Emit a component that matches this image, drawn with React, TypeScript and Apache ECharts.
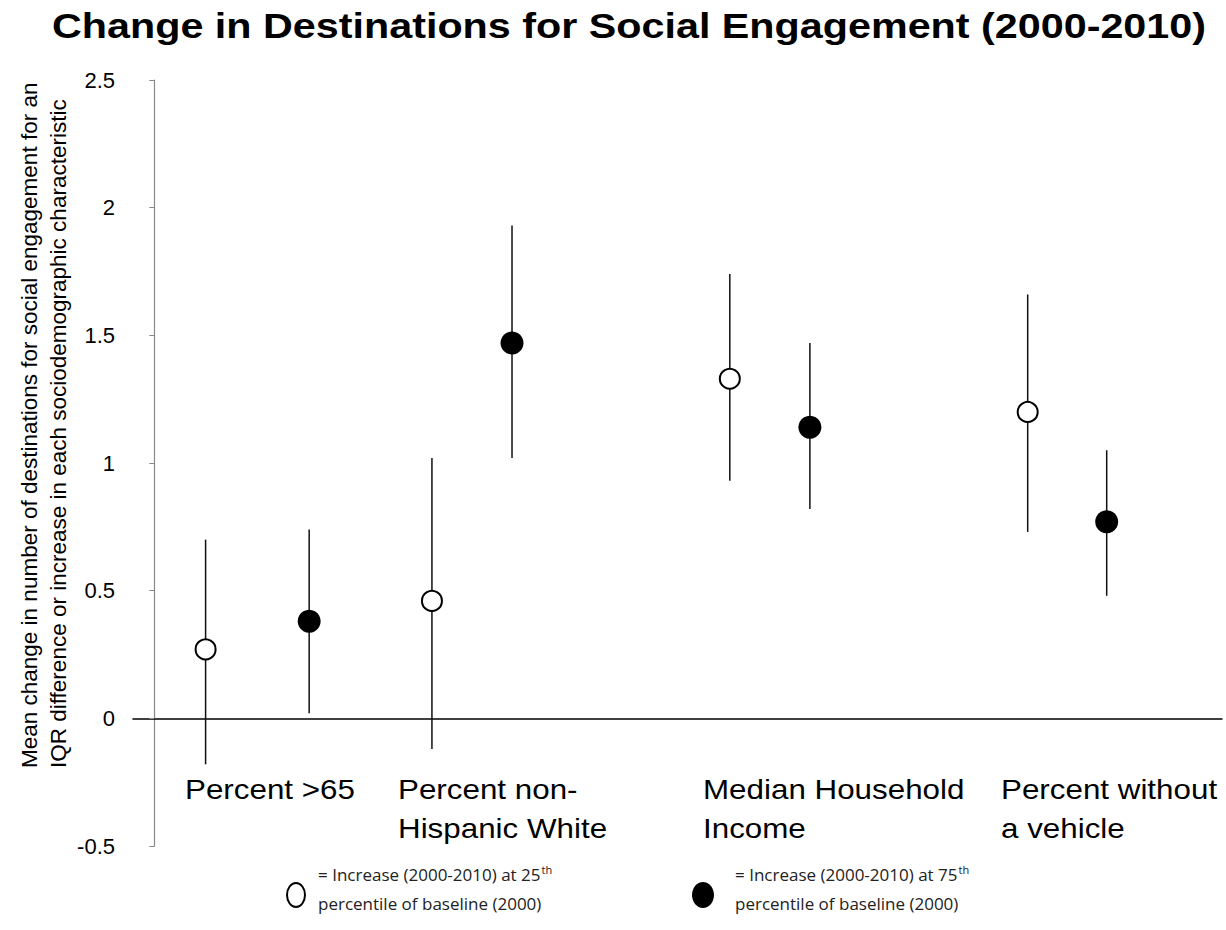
import React, { useEffect, useRef } from "react";
import * as echarts from "echarts";

// Sociodemographic characteristics (x-axis groups)
const categories = [
  "Percent >65",
  "Percent non-\nHispanic White",
  "Median Household\nIncome",
  "Percent without\na vehicle",
];

// Horizontal slot of each marker within the plot (hidden value axis)
const xAt25 = [0.48, 2.6, 5.39, 8.18];
const xAt75 = [1.45, 3.35, 6.14, 8.92];

// Increase (2000-2010) at 25th percentile of baseline (2000)
const mean25 = [0.27, 0.46, 1.33, 1.2];
const low25 = [-0.18, -0.12, 0.93, 0.73];
const high25 = [0.7, 1.02, 1.74, 1.66];

// Increase (2000-2010) at 75th percentile of baseline (2000)
const mean75 = [0.38, 1.47, 1.14, 0.77];
const low75 = [0.02, 1.02, 0.82, 0.48];
const high75 = [0.74, 1.93, 1.47, 1.05];

const yTicks = { min: -0.5, max: 2.5, interval: 0.5 };

const title = "Change in Destinations for Social Engagement (2000-2010)";
const yNameLines = [
  "Mean change in number of destinations for social engagement for an",
  "IQR difference or increase in each sociodemographic characteristic",
];
const legendText25 = ["= Increase (2000-2010) at 25", "th", "percentile of baseline (2000)"];
const legendText75 = ["= Increase (2000-2010) at 75", "th", "percentile of baseline (2000)"];

const SANS = "'Liberation Sans', Arial, sans-serif";
const NARROW = "'Liberation Sans Narrow', 'Open Sans', sans-serif";

// Label boxes for the category names (left edge, top of first line)
const categoryLabelPos = [
  [185, 770],
  [398, 770],
  [703, 770],
  [1001, 770],
];

function errorBarSeries(name: string, xs: number[], lo: number[], hi: number[]) {
  return {
    name,
    type: "custom",
    z: 2,
    silent: true,
    data: xs.map((x, i) => [x, lo[i], hi[i]]),
    renderItem: (_params: any, api: any) => {
      const p1 = api.coord([api.value(0), api.value(1)]);
      const p2 = api.coord([api.value(0), api.value(2)]);
      return {
        type: "line",
        shape: { x1: p1[0], y1: p1[1], x2: p2[0], y2: p2[1] },
        style: { stroke: "#111", lineWidth: 1.5 },
      };
    },
  };
}

export default function App() {
  const ref = useRef<HTMLDivElement>(null);

  useEffect(() => {
    if (!ref.current) return;
    const chart = echarts.init(ref.current, undefined, { renderer: "svg" });

    const legendGraphic = (
      cx: number,
      textX: number,
      filled: boolean,
      lines: string[]
    ) => [
      {
        type: "ellipse",
        shape: { cx, cy: 895, rx: filled ? 11 : 9, ry: filled ? 13 : 12 },
        style: filled
          ? { fill: "#000" }
          : { fill: "#fff", stroke: "#000", lineWidth: 2 },
      },
      {
        type: "text",
        x: textX,
        y: 874,
        style: {
          text: `${lines[0]}{sup|${lines[1]}}`,
          font: `17px ${NARROW}`,
          fill: "#222",
          verticalAlign: "middle",
          rich: {
            sup: { fontSize: 11, fontFamily: NARROW, verticalAlign: "top", padding: [0, 0, 10, 1] },
          },
        },
      },
      {
        type: "text",
        x: textX,
        y: 903,
        style: {
          text: lines[2],
          font: `17px ${NARROW}`,
          fill: "#222",
          verticalAlign: "middle",
        },
      },
    ];

    chart.setOption({
      animation: false,
      backgroundColor: "#fff",
      grid: { left: 133, right: 4, top: 80, bottom: 84 },
      xAxis: {
        type: "value",
        min: -0.2,
        max: 10,
        axisLine: { show: true, onZero: true, lineStyle: { color: "#000", width: 1.5 } },
        axisTick: { show: false },
        axisLabel: { show: false },
        splitLine: { show: false },
      },
      yAxis: {
        type: "value",
        min: yTicks.min,
        max: yTicks.max,
        interval: yTicks.interval,
        axisLine: { show: true, onZero: true, lineStyle: { color: "#888", width: 1.2 } },
        axisTick: { show: true, length: 5, lineStyle: { color: "#888" } },
        axisLabel: {
          margin: 18,
          fontFamily: SANS,
          fontSize: 22,
          color: "#000",
        },
        splitLine: { show: false },
      },
      series: [
        errorBarSeries("range25", xAt25, low25, high25),
        errorBarSeries("range75", xAt75, low75, high75),
        {
          name: "25th percentile",
          type: "scatter",
          z: 3,
          symbol: "circle",
          symbolSize: 20,
          itemStyle: { color: "#fff", borderColor: "#000", borderWidth: 2, opacity: 1 },
          data: xAt25.map((x, i) => [x, mean25[i]]),
        },
        {
          name: "75th percentile",
          type: "scatter",
          z: 3,
          symbol: "circle",
          symbolSize: 23,
          itemStyle: { color: "#000", opacity: 1 },
          data: xAt75.map((x, i) => [x, mean75[i]]),
        },
      ],
      graphic: [
        // chart title, set slightly wide (scaled about its own centre)
        {
          type: "text",
          x: 629,
          y: 26,
          scaleX: 1.18,
          style: {
            text: title,
            font: `bold 35px ${SANS}`,
            fill: "#000",
            textAlign: "center",
            verticalAlign: "middle",
          },
        },
        // rotated two-line y-axis title, both lines starting at the bottom
        ...yNameLines.map((line, i) => ({
          type: "text",
          x: 29 + i * 29,
          y: 768,
          rotation: Math.PI / 2,
          style: {
            text: line,
            font: `22.5px ${SANS}`,
            fill: "#000",
            textAlign: "left",
            verticalAlign: "middle",
          },
        })),
        // category names below the zero line
        ...categories.map((c, i) => ({
          type: "text",
          x: categoryLabelPos[i][0],
          y: categoryLabelPos[i][1],
          scaleX: 1.12,
          style: {
            text: c,
            font: `28px ${SANS}`,
            lineHeight: 39,
            fill: "#000",
            textAlign: "left",
            verticalAlign: "top",
          },
        })),
        ...legendGraphic(296, 318, false, legendText25),
        ...legendGraphic(703, 735, true, legendText75),
      ],
    });

    return () => chart.dispose();
  }, []);

  return (
    <div
      ref={ref}
      style={{ position: "fixed", left: 0, top: 0, width: 1226, height: 930 }}
    />
  );
}
